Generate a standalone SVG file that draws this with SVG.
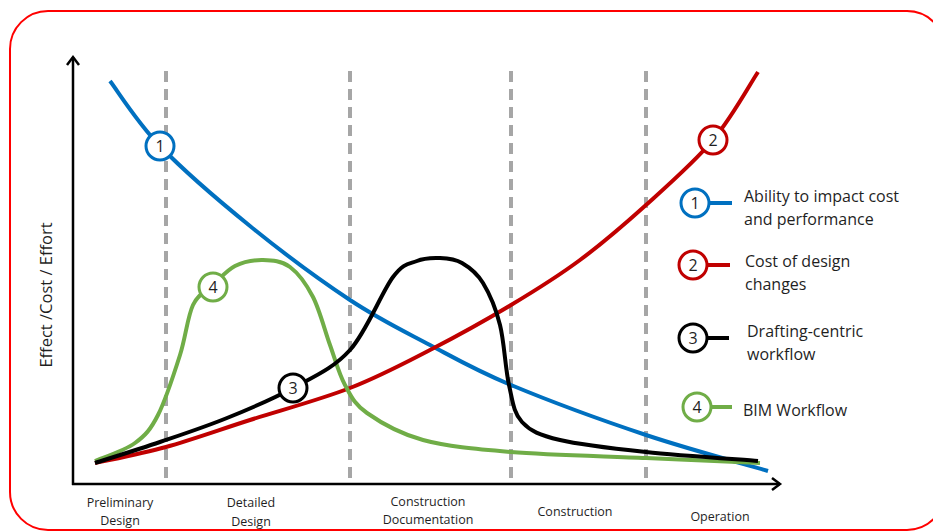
<svg xmlns="http://www.w3.org/2000/svg" width="933" height="532" viewBox="0 0 933 532">
<style>
.t{font-family:"Open Sans","Liberation Sans",Arial,sans-serif;fill:#1f1f1f}
.ax{font-size:12.5px;text-anchor:middle}
.lg{font-size:16px}
.num{font-family:"Open Sans","Liberation Sans",Arial,sans-serif;font-size:16px;fill:#1f1f1f;text-anchor:middle}
.dash{stroke:#A6A6A6;stroke-width:4;stroke-dasharray:11 7;fill:none}
.curve{fill:none;stroke-width:4;stroke-linecap:butt;stroke-linejoin:round}
.mk{fill:#fff;stroke-width:3}
</style>
<defs>
<marker id="arr" markerWidth="14" markerHeight="14" refX="10" refY="7" orient="auto" markerUnits="userSpaceOnUse">
<polyline points="2,1 10,7 2,13" fill="none" stroke="#000" stroke-width="2.5"/>
</marker>
</defs>
<rect x="10" y="11" width="935" height="519" rx="38" ry="38" fill="#fff" stroke="#FF0000" stroke-width="2"/>
<g id="grid">
<line class="dash" x1="166" y1="71" x2="166" y2="484"/>
<line class="dash" x1="350" y1="71" x2="350" y2="484"/>
<line class="dash" x1="511" y1="71" x2="511" y2="484"/>
<line class="dash" x1="646" y1="71" x2="646" y2="484"/>
</g>
<g id="axes">
<line x1="73" y1="485" x2="73" y2="57" stroke="#000" stroke-width="2.5" marker-end="url(#arr)"/>
<line x1="72" y1="484" x2="780" y2="484" stroke="#000" stroke-width="2.5" marker-end="url(#arr)"/>
<text class="t" font-size="16.5" transform="translate(52,295) rotate(-90)" text-anchor="middle">Effect /Cost / Effort</text>
</g>
<g id="connectors">
<path id="c1" class="curve" stroke="#0070C0" d="M110,81 C118.3,91.8 136.7,121.8 160,146 C183.3,170.2 218.3,200.3 250,226 C281.7,251.7 320,280.2 350,300 C380,319.8 403.2,330.8 430,345 C456.8,359.2 475,370 511,385 C547,400 603.2,420.7 646,435 C688.8,449.3 747.7,465 768,471"/>
<path id="c2" class="curve" stroke="#C00000" d="M95,463 C106.8,460.3 140.2,454.2 166,447 C191.8,439.8 219.3,429.8 250,420 C280.7,410.2 320,399.7 350,388 C380,376.3 403.2,363.8 430,350 C456.8,336.2 486,320 511,305 C536,290 557.5,276.7 580,260 C602.5,243.3 623.8,225 646,205 C668.2,185 694.3,162.2 713,140 C731.7,117.8 750.5,83.3 758,72"/>
<path id="c4" class="curve" stroke="#70AD47" d="M95,461 C101.7,458 124.5,450.7 135,443 C145.5,435.3 150.5,429.7 158,415 C165.5,400.3 174.2,373.3 180,355 C185.8,336.7 187.5,316.7 193,305 C198.5,293.3 206,291.5 213,285 C220,278.5 226.7,270.2 235,266 C243.3,261.8 253.8,259.8 263,260 C272.2,260.2 281.7,260.8 290,267 C298.3,273.2 306.3,284 313,297 C319.7,310 324.7,330.3 330,345 C335.3,359.7 338.8,373.7 345,385 C351.2,396.3 354,403.8 367,413 C380,422.2 399,433.5 423,440 C447,446.5 473.8,449 511,452 C548.2,455 604.5,456.2 646,458 C687.5,459.8 741,462.2 760,463"/>
<path id="c3" class="curve" stroke="#000000" d="M95,463 C105.8,459.5 138,449.5 160,442 C182,434.5 204.8,427 227,418 C249.2,409 272.5,399.3 293,388 C313.5,376.7 333.3,368.5 350,350 C366.7,331.5 381.8,291.8 393,277 C404.2,262.2 409.2,264.2 417,261 C424.8,257.8 432.5,258.3 440,258 C447.5,258.3 454.8,258.8 462,263 C469.2,267.2 476.7,272.7 483,283 C489.3,293.3 495.7,308 500,325 C504.3,342 505.3,368.8 509,385 C512.7,401.2 513.5,412.8 522,422 C530.5,431.2 539.3,435 560,440 C580.7,445 613,448.5 646,452 C679,455.5 739.3,459.5 758,461"/>
</g>
<g id="m1"><circle class="mk" cx="160" cy="146" r="14" stroke="#0070C0"/><text class="num" x="160" y="152">1</text></g>
<g id="m2"><circle class="mk" cx="713" cy="140" r="14" stroke="#C00000"/><text class="num" x="713" y="146">2</text></g>
<g id="m3"><circle class="mk" cx="293" cy="388" r="14" stroke="#000000"/><text class="num" x="293" y="394">3</text></g>
<g id="m4"><circle class="mk" cx="213" cy="287" r="14" stroke="#70AD47"/><text class="num" x="213" y="293">4</text></g>
<g id="legend1">
<line x1="709" y1="203" x2="732" y2="203" stroke="#0070C0" stroke-width="4"/>
<circle class="mk" cx="695" cy="203" r="14" stroke="#0070C0"/><text class="num" x="695" y="209">1</text>
<text class="t lg" x="744" y="202">Ability to impact cost</text>
<text class="t lg" x="744" y="225">and performance</text>
</g>
<g id="legend2">
<line x1="707" y1="265" x2="730" y2="265" stroke="#C00000" stroke-width="4"/>
<circle class="mk" cx="693" cy="265" r="14" stroke="#C00000"/><text class="num" x="693" y="271">2</text>
<text class="t lg" x="745" y="267">Cost of design</text>
<text class="t lg" x="745" y="290">changes</text>
</g>
<g id="legend3">
<line x1="707" y1="338" x2="729" y2="338" stroke="#000000" stroke-width="4"/>
<circle class="mk" cx="693" cy="338" r="14" stroke="#000000"/><text class="num" x="693" y="344">3</text>
<text class="t lg" x="747" y="337">Drafting-centric</text>
<text class="t lg" x="747" y="360">workflow</text>
</g>
<g id="legend4">
<line x1="711" y1="407" x2="732" y2="407" stroke="#70AD47" stroke-width="4"/>
<circle class="mk" cx="697" cy="407" r="14" stroke="#70AD47"/><text class="num" x="697" y="413">4</text>
<text class="t lg" x="743" y="416">BIM Workflow</text>
</g>
<g id="phases">
<text class="t ax" x="120" y="507">Preliminary</text>
<text class="t ax" x="120" y="525">Design</text>
<text class="t ax" x="251" y="507">Detailed</text>
<text class="t ax" x="251" y="526">Design</text>
<text class="t ax" x="428" y="506">Construction</text>
<text class="t ax" x="428" y="524">Documentation</text>
<text class="t ax" x="575" y="516">Construction</text>
<text class="t ax" x="720" y="521">Operation</text>
</g>
</svg>
